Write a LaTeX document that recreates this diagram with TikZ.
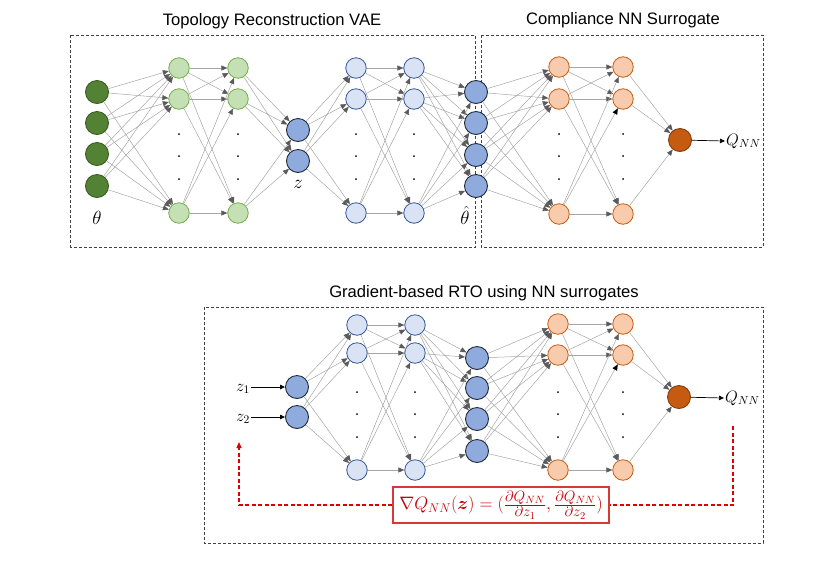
\RequirePackage{fix-cm}
\documentclass[tikz,border=0pt]{standalone}
\usepackage{amsmath,bm}
\usepackage{fontspec}
\setsansfont{Liberation Sans}
\usetikzlibrary{arrows.meta}
\newcommand{\gfrac}[2]{\frac{\text{\fontsize{15}{15}\selectfont$#1$}}{\text{\fontsize{15}{15}\selectfont$#2$}}}
\definecolor{dgreen}{HTML}{548235}
\definecolor{dgreenb}{HTML}{3B5B25}
\definecolor{lgreen}{HTML}{C5E0B4}
\definecolor{lgreenb}{HTML}{70AD47}
\definecolor{mblue}{HTML}{8FAADC}
\definecolor{mblueb}{HTML}{1F2A3A}
\definecolor{lblue}{HTML}{DAE3F3}
\definecolor{lblueb}{HTML}{2F5597}
\definecolor{lorange}{HTML}{F8CBAD}
\definecolor{lorangeb}{HTML}{C55A11}
\definecolor{dorange}{HTML}{C55A11}
\definecolor{dorangeb}{HTML}{843C0C}
\definecolor{edgec}{HTML}{A6A6A6}
\definecolor{tipc}{HTML}{5A5A5A}
\definecolor{redc}{HTML}{C00000}
\definecolor{redline}{HTML}{E00000}
\definecolor{redframe}{HTML}{D83838}
\definecolor{boxc}{HTML}{404040}
\tikzset{
  bign/.style={circle, minimum size=23pt, inner sep=0pt, line width=0.9pt},
  smalln/.style={circle, minimum size=20.5pt, inner sep=0pt, line width=0.8pt},
  ing/.style={bign, fill=dgreen, draw=dgreenb},
  hidg/.style={smalln, fill=lgreen, draw=lgreenb},
  latb/.style={bign, fill=mblue, draw=mblueb},
  hidb/.style={smalln, fill=lblue, draw=lblueb},
  hido/.style={smalln, fill=lorange, draw=lorangeb},
  outo/.style={bign, fill=dorange, draw=dorangeb},
  edge/.style={draw=edgec, line width=0.5pt, -{Triangle[length=6pt,width=5pt,color=tipc]}},
  edgek/.style={draw=edgec, line width=0.5pt, -{Triangle[length=6pt,width=5pt,color=black]}},
  blk/.style={draw=black, line width=0.7pt, -{Triangle[length=5pt,width=4.5pt]}},
  panel/.style={draw=boxc, line width=0.9pt, dash pattern=on 3pt off 2pt},
  ttl/.style={font=\sffamily\fontsize{16.6}{19}\selectfont, inner sep=0pt},
  mlab/.style={font=\fontsize{19}{21}\selectfont, inner sep=1pt},
  qlab/.style={font=\fontsize{16.5}{19}\selectfont, inner sep=1pt},
  dotn/.style={circle, fill=black, minimum size=2pt, inner sep=0pt},
  reddash/.style={draw=redline, line width=1.1pt, dash pattern=on 4pt off 2.5pt},
  gradbox/.style={draw=redframe, line width=1.2pt, minimum width=216pt, minimum height=36pt,
    inner sep=0pt, text=redc, font=\fontsize{18}{20}\selectfont},
}
\begin{document}
\begin{tikzpicture}[x=1pt,y=-1pt]
\useasboundingbox (0,0) rectangle (830,566);
% ---------- titles and panels
\node[ttl] (t1) at (272,21) {Topology Reconstruction VAE};
\node[ttl] (t2) at (623,20) {Compliance NN Surrogate};
\node[ttl] (t3) at (484,293) {Gradient-based RTO using NN surrogates};
\draw[panel] (70.5,35) rectangle (475,247);
\draw[panel] (481,35) rectangle (763,247);
\draw[panel] (204,307) rectangle (763,543);
% ---------- top network
\foreach \i/\y in {1/92,2/123,3/154,4/186} \node[ing] (ta\i) at (97,\y) {};
\foreach \i/\y in {1/68,2/99,3/213} {
  \node[hidg] (tb\i) at (179,\y) {};
  \node[hidg] (tc\i) at (238,\y) {};
  \node[hidb] (te\i) at (356,\y) {};
  \node[hidb] (tf\i) at (414,\y) {};
}
\foreach \i/\y in {1/67,2/99,3/214} {
  \node[hido] (th\i) at (559,\y) {};
  \node[hido] (ti\i) at (623,\y) {};
}
\foreach \i/\y in {1/130,2/161} \node[latb] (td\i) at (298,\y) {};
\foreach \i/\y in {1/92,2/123,3/155,4/186} \node[latb] (tg\i) at (476,\y) {};
\node[outo] (tq) at (680,140) {};
\foreach \x/\n in {179/b,238/c,356/e,414/f,559/h,623/i}
  \foreach \y/\k in {134/1,156/2,179/3} \node[dotn] (tdot\n\k) at (\x,\y) {};
% edges
\foreach \i in {1,...,4} \foreach \j in {1,2,3} \draw[edge] (ta\i) -- (tb\j);
\foreach \i in {1,2,3} \foreach \j in {1,2,3} \draw[edge] (tb\i) -- (tc\j);
\foreach \i in {1,2,3} \foreach \j in {1,2} \draw[edge] (tc\i) -- (td\j);
\foreach \i in {1,2} \foreach \j in {1,2,3} \draw[edge] (td\i) -- (te\j);
\foreach \i in {1,2,3} \foreach \j in {1,2,3} \draw[edge] (te\i) -- (tf\j);
\foreach \i in {1,2,3} \foreach \j in {1,...,4} \draw[edge] (tf\i) -- (tg\j);
\foreach \i in {1,...,4} \foreach \j in {1,2,3} \draw[edge] (tg\i) -- (th\j);
\foreach \i/\j in {1/1,1/2,1/3,2/1,2/2,2/3,3/1,3/3} \draw[edge] (th\i) -- (ti\j);
\draw[edgek] (th3) -- (ti2);
\foreach \i in {1,2,3} \draw[edge] (ti\i) -- (tq);
% labels
\node[mlab] (ltheta) at (97,218) {$\theta$};
\node[mlab] (lz) at (298,184) {$z$};
\node[mlab, inner sep=0pt] (lthetahat) at (465,215) {$\hat{\theta}$};
\node[qlab, anchor=west] (tQl) at (725,141) {$Q_{NN}$};
\draw[blk] (tq) -- (tQl.west);
% ---------- bottom network
\foreach \i/\y in {1/387,2/417} \node[latb] (bd\i) at (297,\y) {};
\foreach \i/\y in {1/325,2/353,3/470} {
  \node[hidb] (be\i) at (357,\y) {};
  \node[hidb] (bf\i) at (415,\y) {};
}
\foreach \i/\y in {1/324,2/355,3/470} {
  \node[hido] (bh\i) at (558,\y) {};
  \node[hido] (bi\i) at (623,\y) {};
}
\foreach \i/\y in {1/358,2/388,3/419,4/451} \node[latb] (bg\i) at (477,\y) {};
\node[outo] (bq) at (679,397) {};
\foreach \x/\n in {357/e,415/f,558/h,623/i}
  \foreach \y/\k in {392/1,414/2,437/3} \node[dotn] (bdot\n\k) at (\x,\y) {};
\foreach \i in {1,2} \foreach \j in {1,2,3} \draw[edge] (bd\i) -- (be\j);
\foreach \i in {1,2,3} \foreach \j in {1,2,3} \draw[edge] (be\i) -- (bf\j);
\foreach \i in {1,2,3} \foreach \j in {1,...,4} \draw[edge] (bf\i) -- (bg\j);
\foreach \i in {1,...,4} \foreach \j in {1,2,3} \draw[edge] (bg\i) -- (bh\j);
\foreach \i/\j in {1/1,1/2,1/3,2/1,2/2,2/3,3/1,3/3} \draw[edge] (bh\i) -- (bi\j);
\draw[edgek] (bh3) -- (bi2);
\foreach \i in {1,2,3} \draw[edge] (bi\i) -- (bq);
\node[qlab, anchor=east] (lz1) at (251,389) {$z_1$};
\node[qlab, anchor=east] (lz2) at (251,419) {$z_2$};
\draw[blk] (lz1.east |- bd1) -- (bd1);
\draw[blk] (lz2.east |- bd2) -- (bd2);
\node[qlab, anchor=west] (bQl) at (724,398) {$Q_{NN}$};
\draw[blk] (bq) -- (bQl.west);
% ---------- gradient feedback
\node[gradbox] (grad) at (501,505)
  {$\nabla Q_{NN}(\bm{z}) = (\gfrac{\partial Q_{NN}}{\partial z_1}, \gfrac{\partial Q_{NN}}{\partial z_2})$};
\coordinate (rfA) at (733,426);
\coordinate (rfB) at (239,442);
\draw[reddash] (rfA) |- (grad.east);
\draw[reddash, -{Triangle[length=6pt,width=5pt,color=redline]}] (grad.west) -| (rfB);
\end{tikzpicture}
\end{document}
